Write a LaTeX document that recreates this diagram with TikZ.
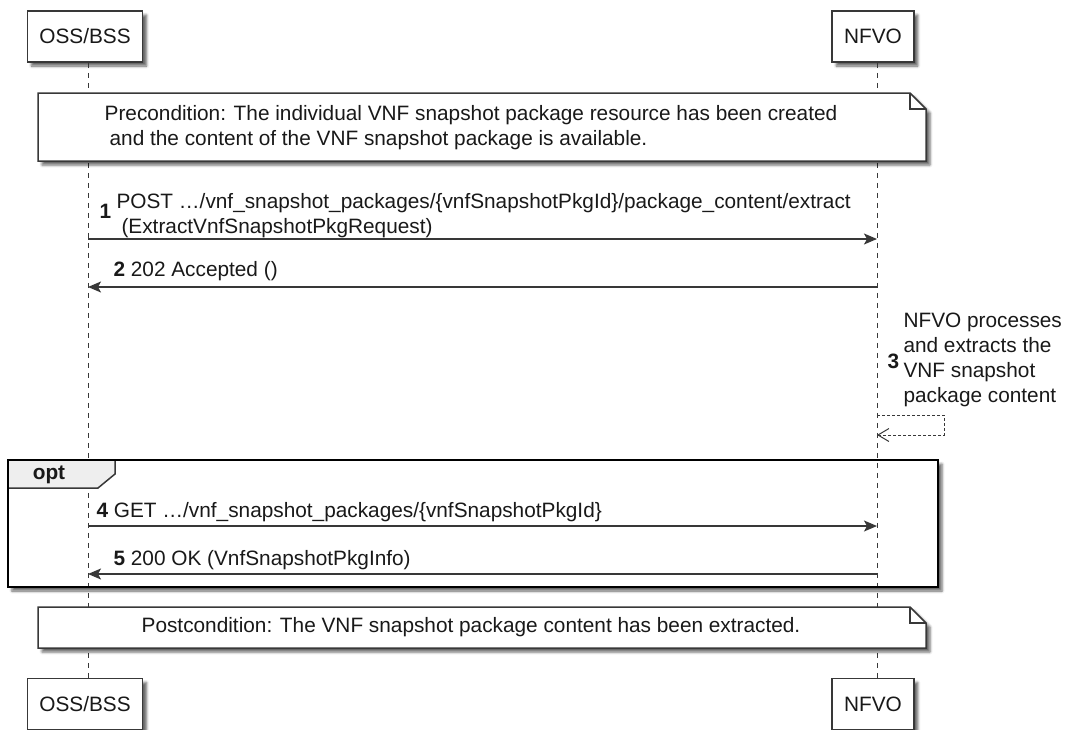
\documentclass[tikz,border=0pt]{standalone}
\usepackage{fontspec}
\setmainfont{Liberation Sans}
\usetikzlibrary{arrows.meta, shadows.blur}
\definecolor{line}{HTML}{383838}
\definecolor{tabfill}{HTML}{EEEEEE}

\begin{document}
\begin{tikzpicture}[
  x=1pt, y=-1pt,
  every node/.style={font=\fontsize{20.8}{24.8}\selectfont, text=black!90},
  shade/.style={blur shadow={shadow xshift=4pt, shadow yshift=-4pt,
                shadow blur radius=2.5pt, shadow opacity=60}},
  part/.style={draw=line, fill=white, line width=1.5pt, inner xsep=12pt,
               minimum height=51pt, shade},
  life/.style={line, line width=1pt, dash pattern=on 5pt off 5pt},
  note/.style={draw=line, fill=white, line width=1.5pt, shade},
  msg/.style={line, line width=1.5pt, -{Stealth[length=13pt, width=11pt, inset=3pt]}},
  selfmsg/.style={line, line width=1pt, dash pattern=on 3pt off 2pt,
                  -{Straight Barb[length=11pt, width=13pt, line width=1pt]}},
  num/.style={font=\fontsize{20.8}{24.8}\selectfont\bfseries, anchor=west},
  lbl/.style={anchor=west, align=left}
]
\useasboundingbox (0,0) rectangle (1069,729);

% participants
\node[part] (ossTop) at (85,36.5) {OSS/BSS};
\node[part] (nfvoTop) at (873,36.5) {NFVO};
\node[part] (ossBot) at (85,704) {OSS/BSS};
\node[part] (nfvoBot) at (873,704) {NFVO};

% opt frame (under the lifelines)
\fill[white, shade] (8,460) rectangle (938,587);

% lifelines
\draw[life] ([xshift=3pt]ossTop.south) -- ([xshift=3pt]ossBot.north);
\draw[life] ([xshift=4pt]nfvoTop.south) -- ([xshift=4pt]nfvoBot.north);

% precondition note
\filldraw[note] (38,93) -- (910,93) -- (926,109) -- (926,161) -- (38,161) -- cycle;
\draw[line, line width=1.5pt] (910,93) -- (910,109) -- (926,109);
\node[align=left] (pre) at (471,127.5)
  {Precondition: The individual VNF snapshot package resource has been created\\
   \hspace*{5pt}and the content of the VNF snapshot package is available.};

% opt frame border and tab
\fill[tabfill] (8,460) -- (115,460) -- (115,474) -- (98,488) -- (8,488) -- cycle;
\draw[line, line width=1.5pt] (115,460) -- (115,474) -- (98,488) -- (8,488);
\draw[black, line width=2.8pt] (8,460) rectangle (938,587);
\node[font=\fontsize{20.8}{24.8}\selectfont\bfseries] (opt) at (49,475) {opt};

% lifeline points of the messages
\coordinate (m1s) at (88,239);  \coordinate (m1e) at (877,239);
\coordinate (m2s) at (877,287); \coordinate (m2e) at (88,287);
\coordinate (m3s) at (877,415); \coordinate (m3e) at (877,435);
\coordinate (m4s) at (88,526);  \coordinate (m4e) at (877,526);
\coordinate (m5s) at (877,574); \coordinate (m5e) at (88,574);

% 1: extract request
\node[num] (n1) at (96,211) {1};
\node[lbl] (l1) at (113,215.5)
  {POST …/vnf\_snapshot\_packages/\{vnfSnapshotPkgId\}/package\_content/extract\\
   \hspace*{5pt}(ExtractVnfSnapshotPkgRequest)};
\draw[msg] (m1s) -- (m1e);

% 2: accepted
\node[lbl] (l2) at (110,271) {\textbf{2} 202 Accepted ()};
\draw[msg] (m2s) -- (m2e);

% 3: NFVO extracts the content
\node[num] (n3) at (884,361) {3};
\node[lbl] (l3) at (900,360)
  {NFVO processes\\and extracts the\\VNF snapshot\\package content};
\draw[selfmsg] (m3s) -- ++(67,0) -- ++(0,20) -- (m3e);

% 4 and 5: read the package info
\node[lbl] (l4) at (93,512) {\textbf{4} GET …/vnf\_snapshot\_packages/\{vnfSnapshotPkgId\}};
\draw[msg] (m4s) -- (m4e);
\node[lbl] (l5) at (110,560) {\textbf{5} 200 OK (VnfSnapshotPkgInfo)};
\draw[msg] (m5s) -- (m5e);

% postcondition note
\filldraw[note] (38,607) -- (910,607) -- (926,623) -- (926,648) -- (38,648) -- cycle;
\draw[line, line width=1.5pt] (910,607) -- (910,623) -- (926,623);
\node (post) at (471,627.5)
  {Postcondition: The VNF snapshot package content has been extracted.};
\end{tikzpicture}
\end{document}
